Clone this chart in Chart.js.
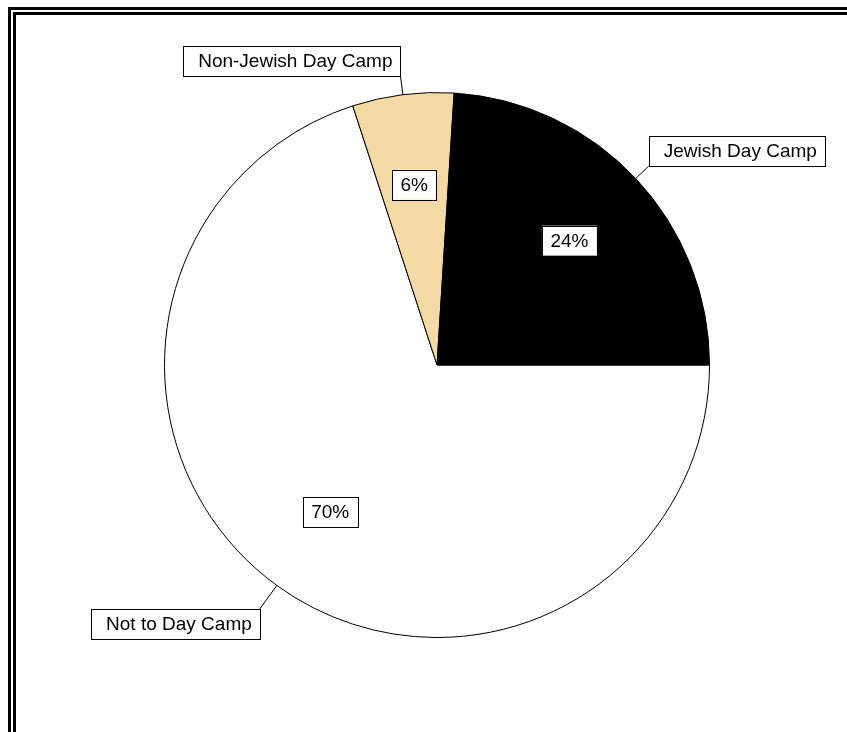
<!DOCTYPE html>
<html>
<head>
<meta charset="utf-8">
<script src="https://cdn.jsdelivr.net/npm/chart.js@4.4.1/dist/chart.umd.min.js"></script>
<style>
body{margin:0;background:#fff;}
#wrap{width:847px;height:732px;}
</style>
</head>
<body>
<div id="wrap"><canvas id="pieChart" width="847" height="732"></canvas></div>
<script>
/* DATA */
let labels=["Not to Day Camp","Non-Jewish Day Camp","Jewish Day Camp"];
let values=[70,6,24];
let colors=["#ffffff","#f3d9a4","#000000"];

/* leader line length per slice (label placement) */
let leaderLen=[29,19,18];

let FONT="19px 'Liberation Sans', Arial, sans-serif";

/* box with text */
function drawBox(ctx,x,y,w,h,txt,tx){
ctx.fillStyle="#fff";
ctx.fillRect(x,y,w,h);
ctx.strokeStyle="#000";
ctx.lineWidth=1;
ctx.strokeRect(Math.round(x)+0.5,Math.round(y)+0.5,Math.round(w),Math.round(h));
ctx.fillStyle="#000";
ctx.textBaseline="middle";
ctx.textAlign="left";
ctx.fillText(txt,x+tx,y+h/2+1);
}

/* FRAME + LABELS */
let piePlugin={
id:"pieLabels",
beforeDraw(chart){
let ctx=chart.ctx;
ctx.save();
ctx.fillStyle="#fff";
ctx.fillRect(0,0,chart.width,chart.height);
ctx.fillStyle="#000";
// double frame, left + top
ctx.fillRect(8,7,3,chart.height);
ctx.fillRect(8,7,chart.width,3);
ctx.fillRect(13,12,3,chart.height);
ctx.fillRect(13,12,chart.width,3);
ctx.restore();
},
afterDraw(chart){
let ctx=chart.ctx;
let meta=chart.getDatasetMeta(0);
let total=values.reduce((a,b)=>a+b);
ctx.save();
ctx.font=FONT;
meta.data.forEach((arc,i)=>{
let mid=(arc.startAngle+arc.endAngle)/2;
let r=arc.outerRadius;
let c=Math.cos(mid),s=Math.sin(mid);

// percent label at 2/3 radius
let pct=Math.round(values[i]/total*100)+"%";
let pw=ctx.measureText(pct).width+17;
let px=arc.x+c*r*2/3, py=arc.y+s*r*2/3;
drawBox(ctx,px-pw/2,py-15,pw,30,pct,8.5);

// leader line + category box
let x0=arc.x+c*r, y0=arc.y+s*r;
let x1=arc.x+c*(r+leaderLen[i]), y1=arc.y+s*(r+leaderLen[i]);
ctx.strokeStyle="#000";
ctx.lineWidth=1;
ctx.beginPath();
ctx.moveTo(x0,y0);
ctx.lineTo(x1,y1);
ctx.stroke();
let w=ctx.measureText(labels[i]).width+23, h=30;
let bx=c>=0?x1:x1-w;
let by=s<0?y1-h:y1;
drawBox(ctx,bx,by,w,h,labels[i],15);
});
ctx.restore();
}
};

let chart=new Chart(document.getElementById("pieChart"),{
type:"pie",
data:{
labels:labels,
datasets:[{
data:values,
backgroundColor:colors,
borderColor:"#000",
borderWidth:1,
hoverOffset:0,
offset:0
}]
},
options:{
responsive:false,
animation:false,
rotation:90,
layout:{padding:{left:164,right:137,top:92,bottom:94}},
plugins:{legend:{display:false},tooltip:{enabled:false}},
events:[]
},
plugins:[piePlugin]
});
</script>
</body>
</html>
